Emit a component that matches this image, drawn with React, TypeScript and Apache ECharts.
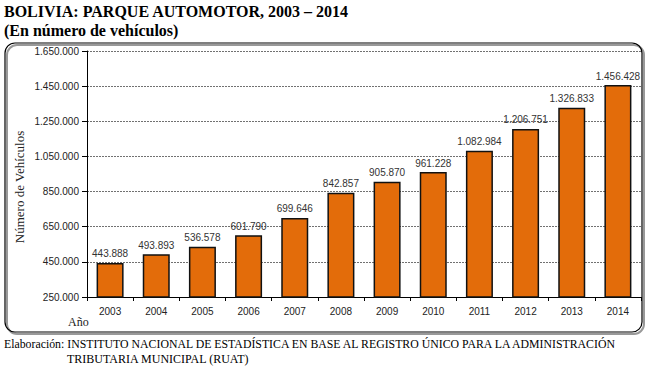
import React, { useEffect, useRef } from "react";
import * as echarts from "echarts";

const years = ["2003", "2004", "2005", "2006", "2007", "2008", "2009", "2010", "2011", "2012", "2013", "2014"];
const vehicles = [443888, 493893, 536578, 601790, 699646, 842857, 905870, 961228, 1082984, 1206751, 1326833, 1456428];
const yMin = 250000;
const yMax = 1650000;
const yStep = 200000;

const fmt = (v: number) => String(Math.round(v)).replace(/\B(?=(\d{3})+(?!\d))/g, ".");

export default function App() {
  const ref = useRef<HTMLDivElement>(null);
  useEffect(() => {
    if (!ref.current) return;
    const chart = echarts.init(ref.current, null, { renderer: "svg" });
    chart.setOption({
      animation: false,
      backgroundColor: "#fff",
      grid: { left: 87, right: 10, top: 51, bottom: 74 },
      graphic: [
        {
          type: "text", left: 4, top: 3,
          style: { text: "BOLIVIA: PARQUE AUTOMOTOR, 2003 – 2014", font: "bold 16px 'Liberation Serif'", fill: "#000" },
        },
        {
          type: "text", left: 4, top: 22,
          style: { text: "(En número de vehículos)", font: "bold 16px 'Liberation Serif'", fill: "#000" },
        },
        {
          type: "rect", shape: { x: 7, y: 45, width: 637, height: 289, r: 10 },
          style: { fill: "none", stroke: "#999", lineWidth: 2 }, z: -2,
        },
        {
          type: "rect", shape: { x: 5, y: 43, width: 637, height: 289, r: 10 },
          style: { fill: "none", stroke: "#000", lineWidth: 1.2 }, z: -1,
        },
        {
          type: "text", x: 19, y: 187, rotation: Math.PI / 2,
          style: { text: "Número de Vehículos", font: "13px 'Liberation Serif'", fill: "#222", align: "center", verticalAlign: "middle" },
        },
        {
          type: "text", x: 68, y: 316,
          style: { text: "Año", font: "12px 'Liberation Serif'", fill: "#222" },
        },
        {
          type: "text", left: 4, top: 338,
          style: { text: "Elaboración: INSTITUTO NACIONAL DE ESTADÍSTICA EN BASE AL REGISTRO ÚNICO PARA LA ADMINISTRACIÓN", font: "11.8px 'Liberation Serif'", fill: "#000" },
        },
        {
          type: "text", left: 67, top: 353,
          style: { text: "TRIBUTARIA MUNICIPAL (RUAT)", font: "12px 'Liberation Serif'", fill: "#000" },
        },
      ],
      xAxis: {
        type: "category",
        data: years,
        axisLine: { lineStyle: { color: "#000", width: 1 } },
        axisTick: { show: true, length: 4, lineStyle: { color: "#000" } },
        axisLabel: { color: "#222", fontFamily: "Liberation Sans", fontSize: 10, margin: 9 },
      },
      yAxis: {
        type: "value",
        min: yMin,
        max: yMax,
        interval: yStep,
        axisLine: { show: true, lineStyle: { color: "#000", width: 1 } },
        axisTick: { show: true, length: 5, lineStyle: { color: "#000" } },
        axisLabel: { color: "#222", fontFamily: "Liberation Sans", fontSize: 10, margin: 8, formatter: (v: number) => fmt(v) },
        splitLine: { show: true, lineStyle: { color: "#333", width: 0.7, type: [2, 1] } },
      },
      series: [
        {
          type: "bar",
          data: vehicles,
          barWidth: 27,
          itemStyle: { color: "#E36C0A", borderColor: "#111", borderWidth: 1.5 },
          label: {
            show: true, position: "top", distance: 4,
            color: "#333", fontFamily: "Liberation Sans", fontSize: 10,
            formatter: (p: any) => fmt(p.value),
          },
        },
      ],
    });
    return () => chart.dispose();
  }, []);
  return <div ref={ref} style={{ width: 651, height: 371, position: "absolute", left: 0, top: 0 }} />;
}
